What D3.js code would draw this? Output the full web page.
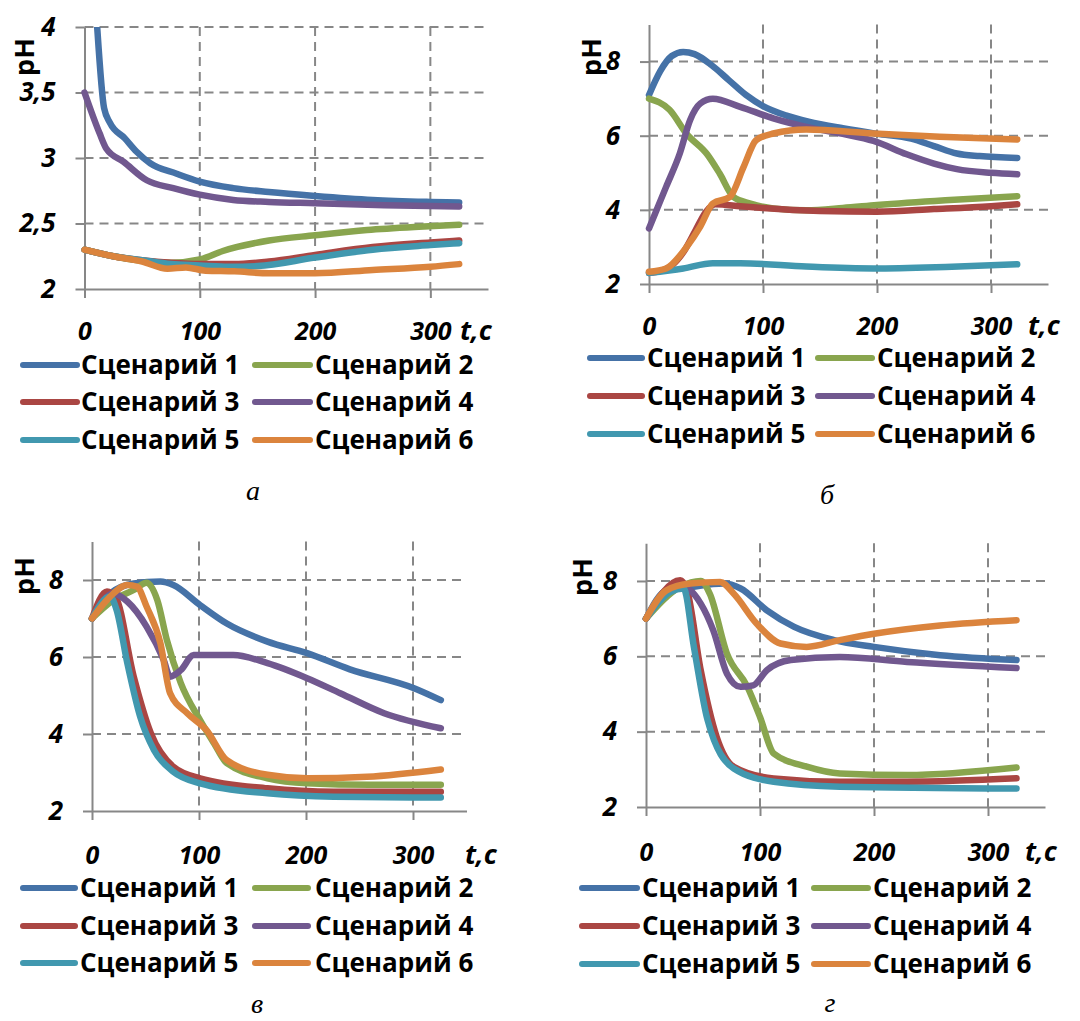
<!DOCTYPE html>
<html>
<head>
  <meta charset="utf-8" />
  <script src="https://cdn.jsdelivr.net/npm/d3@7"></script>
  <style>
  body { margin:0; background:#fff; }
  .tick text { font-family:"Open Sans", sans-serif; font-weight:bold; font-style:italic; fill:#000; }
  </style>
</head>
<body>
<script>
var names = ["Сценарий 1", "Сценарий 2", "Сценарий 3", "Сценарий 4", "Сценарий 5", "Сценарий 6"];
var colors = ["#4572a7", "#89a54e", "#aa4643", "#71588f", "#4198af", "#db843d"];
var xTicks = [0, 100, 200, 300];
var yTicksA = [2, 2.5, 3, 3.5, 4];
var yTicks = [2, 4, 6, 8];

// panel а : [t, pH]
var aS1 = [[0,6.0],[11,4.0],[17,3.38],[22,3.27],[35,3.15],[45,3.05],[57,2.96],[80,2.88],[100,2.82],[129,2.77],[160,2.74],[200,2.71],[250,2.68],[300,2.665],[325,2.66]];
var aS2 = [[0,2.3],[25,2.25],[50,2.215],[75,2.2],[100,2.225],[120,2.29],[160,2.37],[200,2.41],[245,2.45],[290,2.475],[325,2.49]];
var aS3 = [[0,2.3],[25,2.25],[50,2.22],[75,2.2],[100,2.19],[130,2.19],[160,2.21],[200,2.26],[250,2.32],[300,2.355],[325,2.37]];
var aS4 = [[0,3.5],[13,3.19],[19,3.07],[34,2.97],[54,2.83],[77,2.77],[100,2.72],[129,2.68],[160,2.665],[200,2.655],[260,2.64],[325,2.63]];
var aS5 = [[0,2.3],[25,2.25],[50,2.22],[75,2.19],[100,2.18],[125,2.17],[150,2.175],[200,2.24],[250,2.3],[300,2.335],[325,2.35]];
var aS6 = [[0,2.3],[25,2.25],[50,2.21],[72,2.155],[88,2.165],[105,2.14],[130,2.135],[160,2.12],[200,2.12],[250,2.145],[300,2.17],[325,2.19]];

// panel б
var bS1 = [[0,7.1],[10,7.75],[20,8.15],[30,8.26],[40,8.2],[55,7.9],[70,7.5],[85,7.1],[100,6.8],[120,6.55],[140,6.38],[170,6.2],[200,6.05],[230,5.92],[250,5.72],[270,5.52],[290,5.45],[323,5.4]];
var bS2 = [[0,7.0],[18,6.7],[33,6.05],[51,5.5],[62,4.98],[74,4.35],[89,4.17],[109,4.04],[138,3.99],[170,4.05],[200,4.13],[260,4.26],[323,4.37]];
var bS3 = [[0,2.3],[10,2.35],[20,2.5],[30,2.85],[40,3.4],[50,3.95],[58,4.15],[80,4.1],[100,4.05],[150,3.97],[200,3.95],[250,4.02],[300,4.1],[323,4.15]];
var bS4 = [[0,3.5],[15,4.62],[27,5.52],[36,6.42],[45,6.87],[56,7.0],[80,6.78],[109,6.47],[138,6.24],[170,6.05],[197,5.86],[226,5.5],[250,5.25],[270,5.1],[300,5.0],[323,4.96]];
var bS5 = [[0,2.3],[30,2.42],[56,2.56],[80,2.56],[138,2.47],[197,2.42],[260,2.46],[323,2.53]];
var bS6 = [[0,2.33],[15,2.42],[33,3.0],[45,3.55],[56,4.17],[71,4.35],[83,5.16],[94,5.88],[109,6.06],[138,6.17],[197,6.06],[255,5.97],[323,5.9]];

// panel в
var cS1 = [[0,7.0],[17,7.65],[39,7.91],[64,7.96],[76,7.87],[101,7.35],[126,6.87],[164,6.4],[201,6.1],[241,5.68],[301,5.19],[326,4.88]];
var cS2 = [[0,7.0],[20,7.48],[39,7.74],[51,7.93],[61,7.48],[70,6.44],[83,5.32],[101,4.36],[114,3.76],[126,3.24],[164,2.85],[201,2.72],[260,2.68],[326,2.68]];
var cS3 = [[0,7.0],[14,7.7],[22,7.56],[39,5.49],[55,4.02],[76,3.15],[101,2.85],[164,2.59],[226,2.5],[326,2.5]];
var cS4 = [[0,7.0],[20,7.65],[33,7.44],[51,6.79],[67,5.92],[73,5.49],[83,5.66],[95,6.05],[132,6.05],[164,5.84],[201,5.45],[232,5.06],[273,4.54],[326,4.15]];
var cS5 = [[0,7.0],[17,7.57],[23,7.22],[33,5.84],[45,4.45],[58,3.58],[76,3.02],[101,2.72],[164,2.46],[226,2.37],[326,2.35]];
var cS6 = [[0,7.0],[17,7.57],[33,7.87],[42,7.83],[51,7.31],[64,6.35],[73,5.06],[89,4.54],[107,4.1],[126,3.32],[164,2.94],[201,2.85],[257,2.89],[326,3.08]];

// panel г
var dS1 = [[0,7.0],[18,7.75],[39,7.84],[68,7.93],[83,7.8],[106,7.22],[130,6.78],[165,6.43],[200,6.25],[258,6.03],[325,5.9]];
var dS2 = [[0,7.0],[30,7.84],[48,8.0],[56,7.66],[71,6.07],[89,5.19],[100,4.39],[112,3.42],[141,3.07],[170,2.89],[229,2.85],[325,3.05]];
var dS3 = [[0,7.0],[30,8.02],[36,7.75],[48,5.63],[62,3.86],[77,3.07],[112,2.76],[170,2.67],[229,2.67],[325,2.76]];
var dS4 = [[0,7.0],[30,7.88],[48,7.4],[59,6.69],[71,5.54],[83,5.19],[94,5.23],[106,5.63],[127,5.9],[170,5.98],[229,5.85],[325,5.69]];
var dS5 = [[0,7.0],[21,7.7],[33,7.8],[42,6.25],[54,4.31],[77,3.02],[112,2.67],[170,2.54],[325,2.49]];
var dS6 = [[0,7.0],[18,7.75],[39,7.93],[65,7.97],[77,7.66],[97,6.87],[118,6.34],[141,6.25],[170,6.43],[200,6.6],[258,6.82],[325,6.96]];

var panels = [
  {series:[aS1,aS2,aS3,aS4,aS5,aS6], yDom:[2,4], yT:yTicksA, caption:"а",
   l:84.5, r:488, t:27, b:289, ph:[25,57], tc:460, xl:51, cap:[253,500],
   leg:{x:[23,77,81,255,310,315], y:[365,402,440]}},
  {series:[bS1,bS2,bS3,bS4,bS5,bS6], yDom:[2,9], yT:yTicks, caption:"б",
   l:649, r:1048, t:24.5, b:284, ph:[592,57], tc:1028, xl:51, cap:[827,504],
   leg:{x:[590,642,647,818,872,877], y:[358,396,434]}},
  {series:[cS1,cS2,cS3,cS4,cS5,cS6], yDom:[2,9], yT:yTicks, caption:"в",
   l:92, r:466.5, t:541.5, b:811, ph:[25,576], tc:465, xl:53, cap:[257,1013],
   leg:{x:[23,75,80,255,308,315], y:[888,926,963]}},
  {series:[dS1,dS2,dS3,dS4,dS5,dS6], yDom:[2,9], yT:yTicks, caption:"г",
   l:646, r:1045, t:543.3, b:807, ph:[583,577], tc:1025, xl:54, cap:[830,1012],
   leg:{x:[582,637,642,814,868,873], y:[888,926,964]}}
];

var svg = d3.select("body").append("svg")
  .attr("width", 1080)
  .attr("height", 1021);

var grey = "#878787";

panels.forEach(function(p, pi) {
  var x = d3.scaleLinear().domain([0, 350]).range([p.l, p.r]);
  var y = d3.scaleLinear().domain(p.yDom).range([p.b, p.t]);
  var g = svg.append("g");

  // dashed grid
  g.selectAll(".hg").data(p.yT.slice(1)).enter().append("line")
    .attr("x1", p.l).attr("x2", p.r).attr("y1", d => y(d)).attr("y2", d => y(d))
    .attr("stroke", grey).attr("stroke-width", 2).attr("stroke-dasharray", "9,6");
  g.selectAll(".vg").data(xTicks.slice(1)).enter().append("line")
    .attr("x1", d => x(d)).attr("x2", d => x(d)).attr("y1", p.t).attr("y2", p.b)
    .attr("stroke", grey).attr("stroke-width", 2).attr("stroke-dasharray", "9,6");

  var xa = g.append("g").attr("transform", "translate(0," + p.b + ")")
    .call(d3.axisBottom(x).tickValues(xTicks).tickSize(9).tickSizeOuter(0).tickPadding(p.xl - 27));
  var ya = g.append("g").attr("transform", "translate(" + p.l + ",0)")
    .call(d3.axisLeft(y).tickValues(p.yT).tickSize(9).tickSizeOuter(0).tickPadding(20)
      .tickFormat(d => String(d).replace(".", ",")));
  [xa, ya].forEach(function(a) {
    a.select(".domain").attr("stroke", grey).attr("stroke-width", 2);
    a.selectAll(".tick line").attr("stroke", grey).attr("stroke-width", 2);
    a.selectAll(".tick text").attr("font-size", 26);
  });
  xa.selectAll(".tick text").attr("font-size", 25);

  g.append("text").attr("x", p.tc).attr("y", p.b + p.xl)
    .attr("font-family", "Open Sans, sans-serif").attr("font-weight", "bold").attr("font-style", "italic")
    .attr("font-size", 27).text("t,c");

  g.append("text").attr("transform", "translate(" + p.ph[0] + "," + p.ph[1] + ") rotate(-90)")
    .attr("text-anchor", "middle").attr("dy", "0.35em")
    .attr("font-family", "Open Sans, sans-serif").attr("font-weight", "bold")
    .attr("font-size", 27).text("pH");

  svg.append("clipPath").attr("id", "clip" + pi).append("rect")
    .attr("x", p.l - 10).attr("y", p.t).attr("width", p.r - p.l + 20).attr("height", p.b - p.t + 10);

  var line = d3.line().x(d => x(d[0])).y(d => y(d[1])).curve(d3.curveMonotoneX);
  g.append("g").attr("clip-path", "url(#clip" + pi + ")")
    .selectAll("path").data(p.series).enter().append("path")
    .attr("d", line).attr("fill", "none")
    .attr("stroke", (d, i) => colors[i]).attr("stroke-width", 6.5)
    .attr("stroke-linecap", "round").attr("stroke-linejoin", "round");

  // legend
  var lg = g.append("g").selectAll("g").data(names).enter().append("g");
  lg.append("line")
    .attr("x1", (d, i) => p.leg.x[(i % 2) * 3]).attr("x2", (d, i) => p.leg.x[(i % 2) * 3 + 1])
    .attr("y1", (d, i) => p.leg.y[Math.floor(i / 2)]).attr("y2", (d, i) => p.leg.y[Math.floor(i / 2)])
    .attr("stroke", (d, i) => colors[i]).attr("stroke-width", 6).attr("stroke-linecap", "round");
  lg.append("text")
    .attr("x", (d, i) => p.leg.x[(i % 2) * 3 + 2])
    .attr("y", (d, i) => p.leg.y[Math.floor(i / 2)]).attr("dy", "0.36em")
    .attr("font-family", "Open Sans, sans-serif").attr("font-weight", "bold")
    .attr("font-size", 26).text(d => d);

  g.append("text").attr("x", p.cap[0]).attr("y", p.cap[1]).attr("text-anchor", "middle")
    .attr("font-family", "Liberation Serif, serif").attr("font-style", "italic")
    .attr("font-size", 28).text(p.caption);
});
</script>
</body>
</html>
